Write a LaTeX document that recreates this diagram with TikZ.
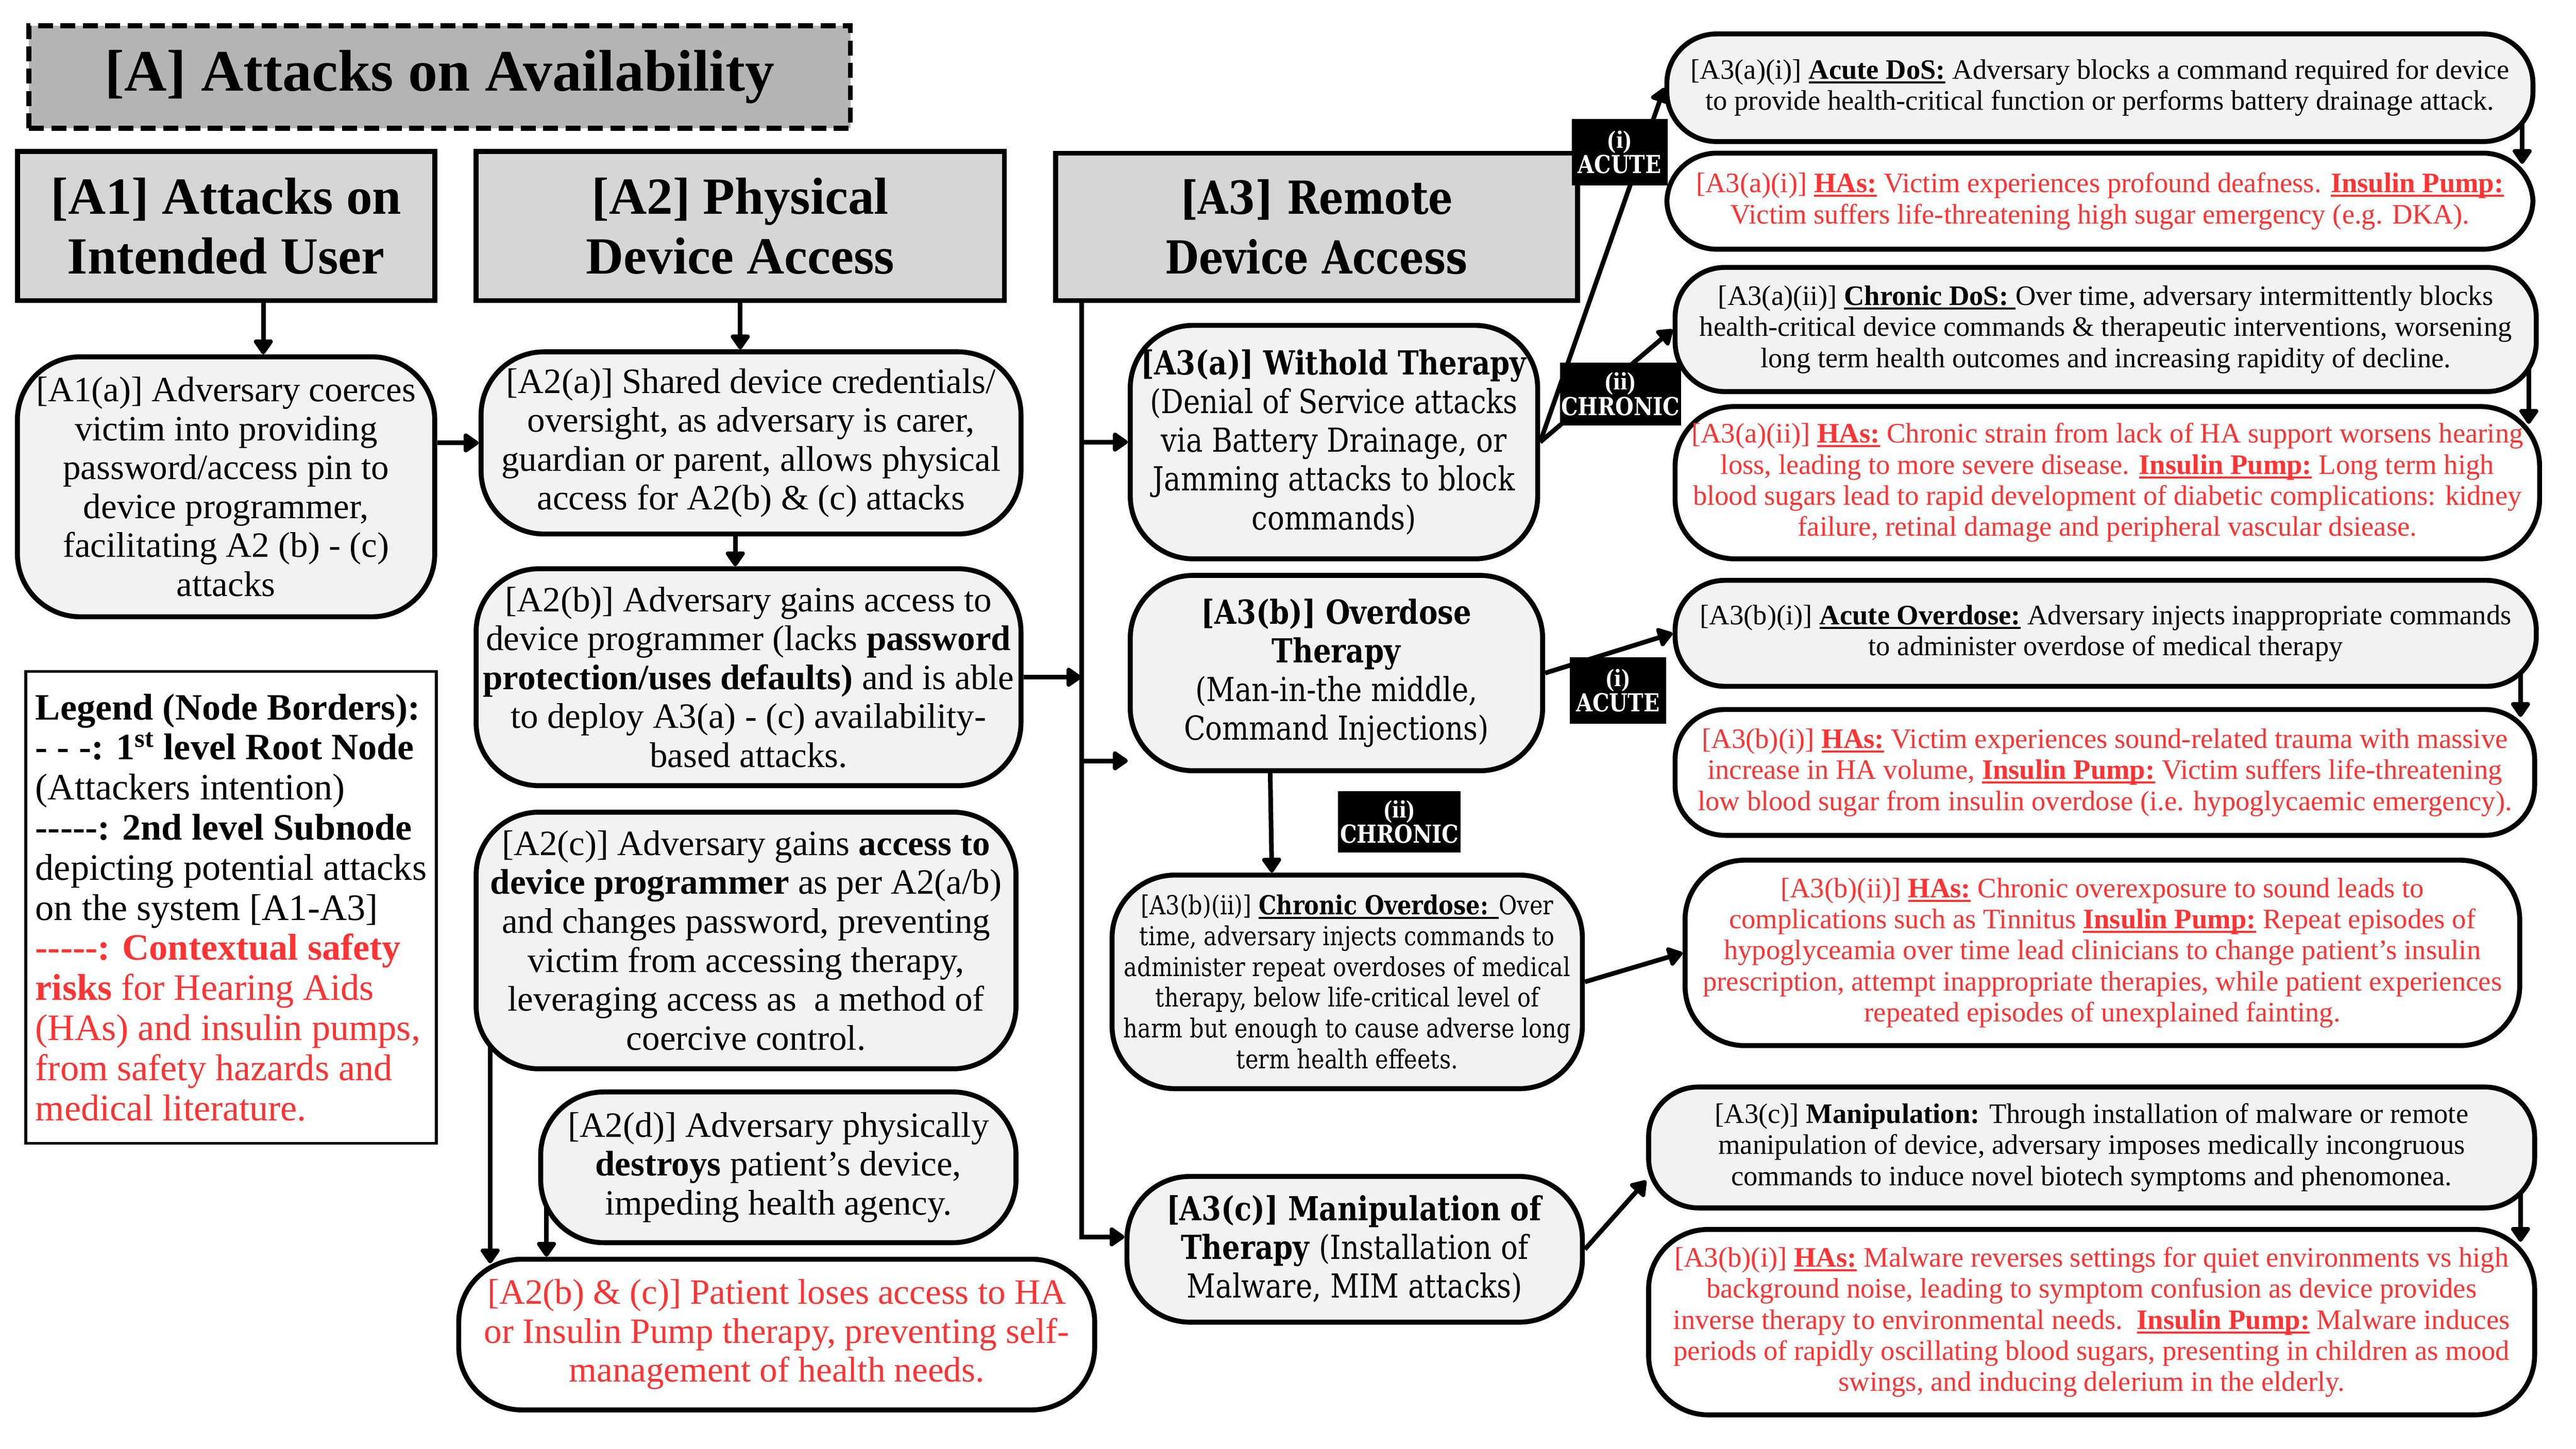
\documentclass[tikz,border=0pt]{standalone}
\usepackage{fontspec}
\setmainfont{Liberation Serif}
\newfontfamily\widefont[FakeStretch=0.85]{DejaVu Serif}
\usetikzlibrary{arrows.meta,calc}
\definecolor{riskred}{RGB}{255,51,51}
\definecolor{titlegray}{RGB}{180,180,180}
\definecolor{hdrgray}{RGB}{214,214,214}
\definecolor{subgray}{RGB}{242,242,242}
\pgfdeclarelayer{bg}
\pgfsetlayers{bg,main}
\tikzset{
  boxline/.style={draw=black, line width=3pt},
  titlebox/.style={boxline, dash pattern=on 9pt off 4.5pt, fill=titlegray, inner sep=0pt,
    font=\bfseries\fontsize{35.5}{40}\selectfont},
  hdr/.style={boxline, rectangle, fill=hdrgray, align=center, inner sep=0pt,
    font=\bfseries\fontsize{31.5}{36}\selectfont},
  sub/.style={boxline, rounded corners=38pt, fill=subgray, align=center, inner sep=0pt,
    font=\fontsize{21.5}{23.5}\selectfont},
  wsub/.style={sub, font=\widefont\fontsize{20}{23.4}\selectfont},
  risk/.style={sub, fill=white, text=riskred},
  rbox/.style={boxline, rounded corners=30pt, fill=subgray, align=center, inner sep=0pt,
    font=\fontsize{17}{18.8}\selectfont},
  rrisk/.style={rbox, fill=white, text=riskred},
  tag/.style={fill=black, text=white, align=center, inner sep=0pt,
    font=\bfseries\fontsize{15}{13.5}\selectfont},
  legendbox/.style={draw=black, line width=1.8pt, align=left, inner sep=0pt,
    font=\fontsize{22.5}{24.2}\selectfont},
  arr/.style={line width=2.8pt, -{Triangle[length=10pt,width=13pt,round]}},
}
\newsavebox{\ulbox}
\newcommand{\ulb}[1]{\sbox{\ulbox}{\bfseries #1}\rlap{\bfseries #1}\rule[-0.16em]{\wd\ulbox}{0.075em}}
\newcommand{\fivedash}{-{}-{}-{}-{}-}
\begin{document}
\begin{tikzpicture}[x=1pt,y=-1pt]
\useasboundingbox (0,0) rectangle (1555.5,875);

% ---------- title and headers
\node[titlebox, minimum width=496pt, minimum height=62pt] (T) at (265.5,46.5) {[A] Attacks on Availability};
\node[hdr, minimum width=252pt, minimum height=90pt] (A1h) at (136.5,136.5) {[A1] Attacks on\\Intended User};
\node[hdr, minimum width=319pt, minimum height=90pt] (A2h) at (447,136.5) {[A2] Physical\\Device Access};
\node[hdr, font=\widefont\bfseries\fontsize{27.5}{36}\selectfont, minimum width=315pt, minimum height=89pt] (A3h) at (795,137) {[A3] Remote\\Device Access};

% ---------- A1 / A2 column
\node[sub, minimum width=252pt, minimum height=157pt] (A1a) at (136.5,294) {[A1(a)] Adversary coerces\\victim into providing\\password/access pin to\\device programmer,\\facilitating A2 (b) - (c)\\attacks};
\node[sub, minimum width=326pt, minimum height=110pt] (A2a) at (453.5,267.5) {[A2(a)] Shared device credentials/\\oversight, as adversary is carer,\\guardian or parent, allows physical\\access for A2(b) \& (c) attacks};
\node[sub, minimum width=329pt, minimum height=131pt] (A2b) at (452,409) {[A2(b)] Adversary gains access to\\device programmer (lacks \textbf{password}\\\textbf{protection/uses defaults)} and is able\\to deploy A3(a) - (c) availability-\\based attacks.};
\node[sub, minimum width=326pt, minimum height=155pt] (A2c) at (450.5,568) {[A2(c)] Adversary gains \textbf{access to}\\\textbf{device programmer} as per A2(a/b)\\and changes password, preventing\\victim from accessing therapy,\\leveraging access as\ \ a method of\\coercive control.};
\node[sub, minimum width=287pt, minimum height=91pt] (A2d) at (470,705) {[A2(d)] Adversary physically\\\textbf{destroys} patient’s device,\\impeding health agency.};
\node[risk, minimum width=384pt, minimum height=91pt] (A2bc) at (469,806) {[A2(b) \& (c)] Patient loses access to HA\\or Insulin Pump therapy, preventing self-\\management of health needs.};

% ---------- legend
\node[legendbox, minimum width=248pt, minimum height=285pt] (leg) at (139.5,548) {%
\textbf{Legend (Node Borders):}\\
\textbf{- - -: 1\textsuperscript{st} level Root Node}\\
(Attackers intention)\\
\textbf{\fivedash: 2nd level Subnode}\\
depicting potential attacks\\
on the system [A1-A3]\\
\textcolor{riskred}{\textbf{\fivedash: Contextual safety}}\\
\textcolor{riskred}{\textbf{risks} for Hearing Aids}\\
\textcolor{riskred}{(HAs) and insulin pumps,}\\
\textcolor{riskred}{from safety hazards and}\\
\textcolor{riskred}{medical literature.}};

% ---------- A3 column
\node[wsub, minimum width=246pt, minimum height=141pt] (A3a) at (805.5,267) {\textbf{[A3(a)] Withold Therapy}\\(Denial of Service attacks\\via Battery Drainage, or\\Jamming attacks to block\\commands)};
\node[wsub, minimum width=249pt, minimum height=118pt] (A3b) at (807,406.5) {\textbf{[A3(b)] Overdose}\\\textbf{Therapy}\\(Man-in-the middle,\\Command Injections)};
\node[wsub, font=\widefont\fontsize{15.8}{18.6}\selectfont, minimum width=284pt, minimum height=129pt] (A3bii) at (813.5,593) {[A3(b)(ii)] \ulb{Chronic Overdose: }Over\\time, adversary injects commands to\\administer repeat overdoses of medical\\therapy, below life-critical level of\\harm but enough to cause adverse long\\term health effeets.};
\node[wsub, minimum width=275pt, minimum height=88pt] (A3c) at (818,754.5) {\textbf{[A3(c)] Manipulation of}\\\textbf{Therapy} (Installation of\\Malware, MIM attacks)};

% ---------- right column
\node[rbox, minimum width=523pt, minimum height=65pt] (R1) at (1268,53) {[A3(a)(i)] \ulb{Acute DoS:} Adversary blocks a command required for device\\to provide health-critical function or performs battery drainage attack.};
\node[rrisk, minimum width=523pt, minimum height=58pt] (R2) at (1268,121.5) {[A3(a)(i)] \ulb{HAs:} Victim experiences profound deafness. \ulb{Insulin Pump:}\\Victim suffers life-threatening high sugar emergency (e.g. DKA).};
\node[rbox, minimum width=520pt, minimum height=75pt] (R3) at (1271.5,199) {[A3(a)(ii)] \ulb{Chronic DoS: }Over time, adversary intermittently blocks\\health-critical device commands \& therapeutic interventions, worsening\\long term health outcomes and increasing rapidity of decline.};
\node[rrisk, rounded corners=36pt, minimum width=522pt, minimum height=92pt] (R4) at (1272.5,291.5) {[A3(a)(ii)] \ulb{HAs:} Chronic strain from lack of HA support worsens hearing\\loss, leading to more severe disease. \ulb{Insulin Pump:} Long term high\\blood sugars lead to rapid development of diabetic complications: kidney\\failure, retinal damage and peripheral vascular dsiease.};
\node[rbox, minimum width=520pt, minimum height=64pt] (R5) at (1271.5,382.5) {[A3(b)(i)] \ulb{Acute Overdose:} Adversary injects inappropriate commands\\to administer overdose of medical therapy};
\node[rrisk, minimum width=519pt, minimum height=76pt] (R6) at (1271,466.5) {[A3(b)(i)] \ulb{HAs:} Victim experiences sound-related trauma with massive\\increase in HA volume, \ulb{Insulin Pump:} Victim suffers life-threatening\\low blood sugar from insulin overdose (i.e. hypoglycaemic emergency).};
\node[rrisk, rounded corners=36pt, minimum width=504pt, minimum height=112pt] (R7) at (1269.5,575.5) {[A3(b)(ii)] \ulb{HAs:} Chronic overexposure to sound leads to\\complications such as Tinnitus \ulb{Insulin Pump:} Repeat episodes of\\hypoglyceamia over time lead clinicians to change patient’s insulin\\prescription, attempt inappropriate therapies, while patient experiences\\repeated episodes of unexplained fainting.};
\node[rbox, minimum width=535pt, minimum height=73pt] (R8) at (1263,693) {[A3(c)] \textbf{Manipulation:} Through installation of malware or remote\\manipulation of device, adversary imposes medically incongruous\\commands to induce novel biotech symptoms and phenomonea.};
\node[rrisk, rounded corners=36pt, minimum width=535pt, minimum height=112pt] (R9) at (1263,798.5) {[A3(b)(i)] \ulb{HAs:} Malware reverses settings for quiet environments vs high\\background noise, leading to symptom confusion as device provides\\inverse therapy to environmental needs.\ \ \ulb{Insulin Pump:} Malware induces\\periods of rapidly oscillating blood sugars, presenting in children as mood\\swings, and inducing delerium in the elderly.};

% ---------- tags
\node[tag, minimum width=58pt, minimum height=40pt] (tA1) at (978,92) {(i)\\{\widefont ACUTE}};
\node[tag, minimum width=73pt, minimum height=38pt] (tA2) at (978.5,238) {(ii)\\{\widefont CHRONIC}};
\node[tag, minimum width=58pt, minimum height=40pt] (tB1) at (977,417) {(i)\\{\widefont ACUTE}};
\node[tag, minimum width=74pt, minimum height=37pt] (tB2) at (845,496.5) {(ii)\\{\widefont CHRONIC}};

% ---------- connectors
\begin{pgfonlayer}{bg}
\draw[arr] ($(A1h.south)+(22.5,0)$) -- ($(A1h.south |- A1a.north)+(22.5,0)$);
\draw[arr] (A2h.south) -- (A2h.south |- A2a.north);
\draw[arr] (A1a.east |- A2a.west) -- (A2a.west);
\draw[arr] ($(A2a.south)+(-9.5,0)$) -- ($(A2a.south |- A2b.north)+(-9.5,0)$);
\coordinate (L0) at ($(A3h.south)+(-142,0)$);
\draw[arr] (A2b.east) -- (A2b.east -| L0);
\draw[arr] (L0) |- ($(A3c.west)+(0,-7.5)$);
\draw[arr] (L0 |- A3a.west) -- (A3a.west);
\coordinate (b3) at ($(A3b.west)+(0,53)$);
\draw[arr] (L0 |- b3) -- (b3);
\draw[arr] ($(A2c.center)+(-154.5,0)$) -- ($(A2bc.north)+(-173,4)$);
\draw[arr] ($(A2d.center)+(-140,0)$) -- ($(A2bc.north)+(-139,0)$);
\draw[arr] (A3a.east) -- (R1.west);
\draw[arr] (A3a.east) -- (R3.west);
\draw[arr] (A3b.east) -- (R5.west);
\draw[arr] ($(A3b.south)+(-40,0)$) -- ($(A3bii.north)+(-45.5,0)$);
\draw[arr] (A3bii.east) -- (R7.west);
\draw[arr] (A3c.east) -- ($(R8.west)+(0,20)$);
\draw[arr] ($(R2.north east |- R1.center)+(-8,0)$) -- ($(R2.north east)+(-8,8)$);
\draw[arr] ($(R4.north east |- R3.center)+(-8,0)$) -- ($(R4.north east)+(-8,12)$);
\draw[arr] ($(R6.north east |- R5.center)+(-10,0)$) -- ($(R6.north east)+(-10,6)$);
\draw[arr] ($(R9.north east |- R8.center)+(-10,0)$) -- ($(R9.north east)+(-10,9)$);
\end{pgfonlayer}
\end{tikzpicture}
\end{document}
